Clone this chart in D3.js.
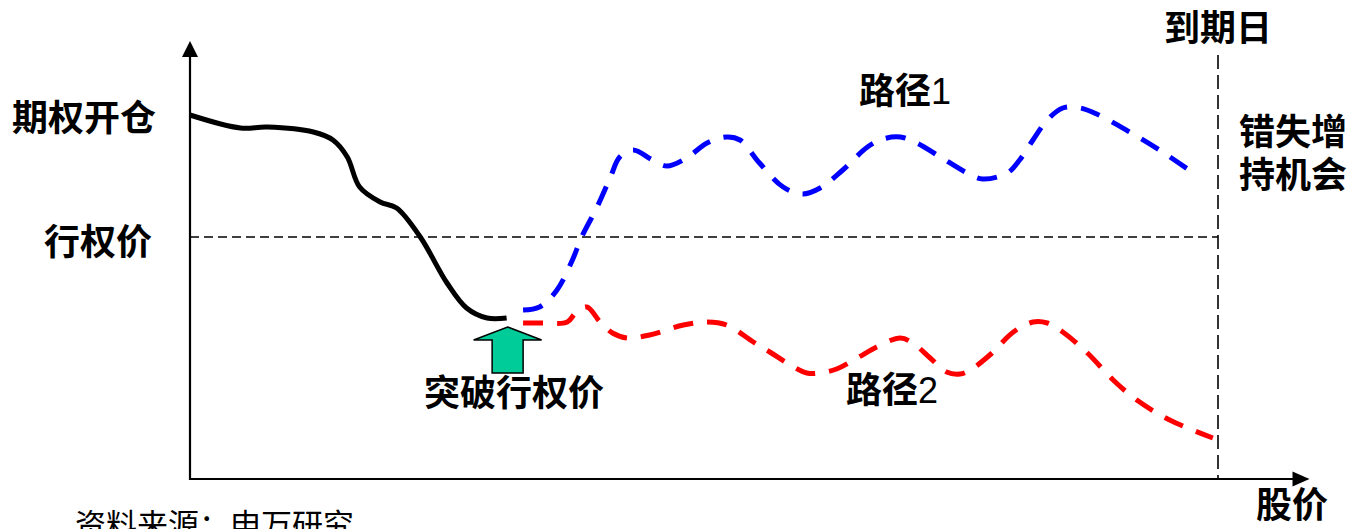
<!DOCTYPE html>
<html>
<head>
<meta charset="utf-8">
<script src="https://cdn.jsdelivr.net/npm/d3@7/dist/d3.min.js"></script>
<style>
  html, body { margin: 0; padding: 0; background: #fff; }
  svg { display: block; }
  .cjk { font-family: "Noto Sans CJK SC", "Noto Sans", sans-serif; font-weight: 700; fill: #000; }
  .num { font-family: "Liberation Sans", Arial, sans-serif; font-weight: 400; }
</style>
</head>
<body>
<svg id="chart" width="1351" height="529"></svg>
<script>
// Price path before the breakout (time in % of option life, price in index units)
const preTime  = [0, 4.9, 7.5, 12, 13.9, 15.3, 16.5, 18.5, 20.1, 22.4, 25, 26.9, 28.9, 30.8];
const preValue = [91, 87.75, 88, 86.75, 84.75, 80.5, 73, 69.25, 67.75, 60.5, 49, 42.75, 40.25, 40.25];

// Path 1: price rallies above the strike after the breakout
const path1Time  = [32.4, 34, 35.7, 37.2, 38.1, 39.6, 40.9, 41.8, 43.1, 45, 46.4, 48.3, 50.3, 52.2, 53.5, 55.4, 57.7, 59.6, 61.3, 63.5, 65.9, 67.4, 69.1, 70.7, 73, 75.6, 77.1, 79.5, 80.7, 82, 83.4, 84.9, 86.6, 88.2, 91.4, 94.6, 97.6];
const path1Value = [42.25, 43, 47.25, 54.75, 60.5, 68, 75.5, 80.5, 82.25, 79.75, 78.25, 80.25, 84, 85.5, 84.75, 79, 73, 71.25, 72.75, 77.25, 83, 85, 85.5, 84, 80.5, 76.5, 75, 76.5, 79.75, 84.75, 89.75, 92.75, 92.75, 91.25, 86.75, 81.75, 76.5];

// Path 2: price keeps drifting lower
const path2Time  = [32.4, 34.3, 36.7, 37.5, 38.6, 39.9, 41.1, 42.5, 44.7, 48, 50.3, 52.2, 54.8, 56.4, 58.4, 60, 61.3, 62.9, 64.9, 66.8, 69.1, 70.3, 72, 73.6, 74.9, 75.9, 77.8, 80.1, 82, 83.4, 84.9, 87.3, 89.8, 92.1, 95.3, 99.5];
const path2Value = [39, 39, 39.25, 41.5, 43, 39.25, 36.5, 35.25, 36, 38.5, 39.25, 38.5, 34.25, 31.75, 28.5, 26.5, 26.5, 27.5, 30.25, 33, 35.25, 34, 30.25, 26.75, 26.25, 27.25, 31, 36.75, 39.25, 39, 36.75, 31.5, 24.75, 19.75, 14.75, 10.25];

// Reference levels and time marks
const openLevel   = 91;     // price when the option was opened
const strikeLevel = 60.5;   // strike price
const expiryTime  = 100;    // expiry date
const axisTimeEnd = 108.9;  // end of the time axis arrow
const axisValueEnd = 109.5; // end of the price axis arrow

// Text labels
const levelLabels = ["期权开仓", "行权价"];
const expiryLabel = "到期日";
const missedLabel = ["错失增", "持机会"];
const xAxisLabel  = "股价";
const breakLabel  = "突破行权价";
const path1Label  = ["路径", "1"];
const path2Label  = ["路径", "2"];
const sourceLabel = "资料来源：申万研究";

const svg = d3.select("#chart");

const x = d3.scaleLinear().domain([0, 100]).range([190, 1218]);
const y = d3.scaleLinear().domain([0, 100]).range([479, 79]);

const zip = (ts, vs) => ts.map((t, i) => [t, vs[i]]);
const line = d3.line()
  .x(d => x(d[0]))
  .y(d => y(d[1]))
  .curve(d3.curveCatmullRom.alpha(0.5));

// Strike level (dashed) and expiry marker
svg.append("line")
  .attr("x1", x(0)).attr("x2", x(expiryTime))
  .attr("y1", y(strikeLevel)).attr("y2", y(strikeLevel))
  .attr("stroke", "#000").attr("stroke-width", 1.6)
  .attr("stroke-dasharray", "9,5");

svg.append("line")
  .attr("x1", x(expiryTime)).attr("x2", x(expiryTime))
  .attr("y1", 55).attr("y2", y(0))
  .attr("stroke", "#000").attr("stroke-width", 1.6)
  .attr("stroke-dasharray", "14,6");

// Axes with arrowheads
svg.append("line")
  .attr("x1", x(0)).attr("x2", x(0))
  .attr("y1", y(0) + 1).attr("y2", y(axisValueEnd) + 12)
  .attr("stroke", "#000").attr("stroke-width", 2.2);
svg.append("line")
  .attr("x1", x(0) - 1).attr("x2", x(axisTimeEnd) - 14)
  .attr("y1", y(0)).attr("y2", y(0))
  .attr("stroke", "#000").attr("stroke-width", 2.2);

svg.append("path")
  .attr("d", `M${x(0)},${y(axisValueEnd)} L${x(0) - 8},${y(axisValueEnd) + 16} L${x(0) + 8},${y(axisValueEnd) + 16} Z`)
  .attr("fill", "#000");
svg.append("path")
  .attr("d", `M${x(axisTimeEnd)},${y(0)} L${x(axisTimeEnd) - 17},${y(0) - 7.5} L${x(axisTimeEnd) - 17},${y(0) + 7.5} Z`)
  .attr("fill", "#000");

// Price paths
svg.append("path")
  .datum(zip(preTime, preValue))
  .attr("d", line)
  .attr("fill", "none").attr("stroke", "#000").attr("stroke-width", 5)
  .attr("stroke-linecap", "butt");

svg.append("path")
  .datum(zip(path1Time, path1Value))
  .attr("d", line)
  .attr("fill", "none").attr("stroke", "#0000ff").attr("stroke-width", 5)
  .attr("stroke-dasharray", "20,14");

svg.append("path")
  .datum(zip(path2Time, path2Value))
  .attr("d", line)
  .attr("fill", "none").attr("stroke", "#ff0000").attr("stroke-width", 5)
  .attr("stroke-dasharray", "20,14");

// Breakout arrow under the end of the pre-breakout path
const bx = x(preTime[preTime.length - 1]) + 1;
const tipY = y(preValue[preValue.length - 1]) + 9;
const arrow = [
  [bx, tipY], [bx + 34, tipY + 13], [bx + 15.5, tipY + 13], [bx + 15.5, tipY + 46],
  [bx - 15.5, tipY + 46], [bx - 15.5, tipY + 13], [bx - 34, tipY + 13]
];
svg.append("path")
  .attr("d", d3.line()(arrow) + "Z")
  .attr("fill", "#00cc99").attr("stroke", "#000").attr("stroke-width", 1.5)
  .attr("stroke-linejoin", "miter");

// Labels
function label(txt, px, py, size) {
  return svg.append("text").attr("class", "cjk")
    .attr("x", px).attr("y", py)
    .style("font-size", (size || 36) + "px")
    .text(txt);
}

label(levelLabels[0], 12, y(openLevel) + 16);
label(levelLabels[1], 44, y(strikeLevel) + 18);
label(expiryLabel, 1164, 41);
label(xAxisLabel, 1256, 518);
label(breakLabel, 424, 406);

// Two-line note beside the expiry marker
const missed = svg.append("text").attr("class", "cjk")
  .attr("x", 1239).attr("y", 145).style("font-size", "36px");
missed.selectAll("tspan")
  .data(missedLabel)
  .join("tspan")
  .attr("x", 1239)
  .attr("dy", (d, i) => i === 0 ? 0 : 43)
  .text(d => d);

function pathLabel(parts, px, py) {
  const t = svg.append("text").attr("class", "cjk")
    .attr("x", px).attr("y", py).style("font-size", "36px");
  t.append("tspan").text(parts[0]);
  t.append("tspan").attr("class", "num").text(parts[1]);
}
pathLabel(path1Label, 859, 104);
pathLabel(path2Label, 846, 403);

svg.append("text")
  .attr("x", 75).attr("y", 536)
  .style("font-family", '"Noto Sans CJK SC", sans-serif')
  .style("font-weight", 400)
  .style("font-size", "31px")
  .attr("fill", "#000")
  .text(sourceLabel);
</script>
</body>
</html>
